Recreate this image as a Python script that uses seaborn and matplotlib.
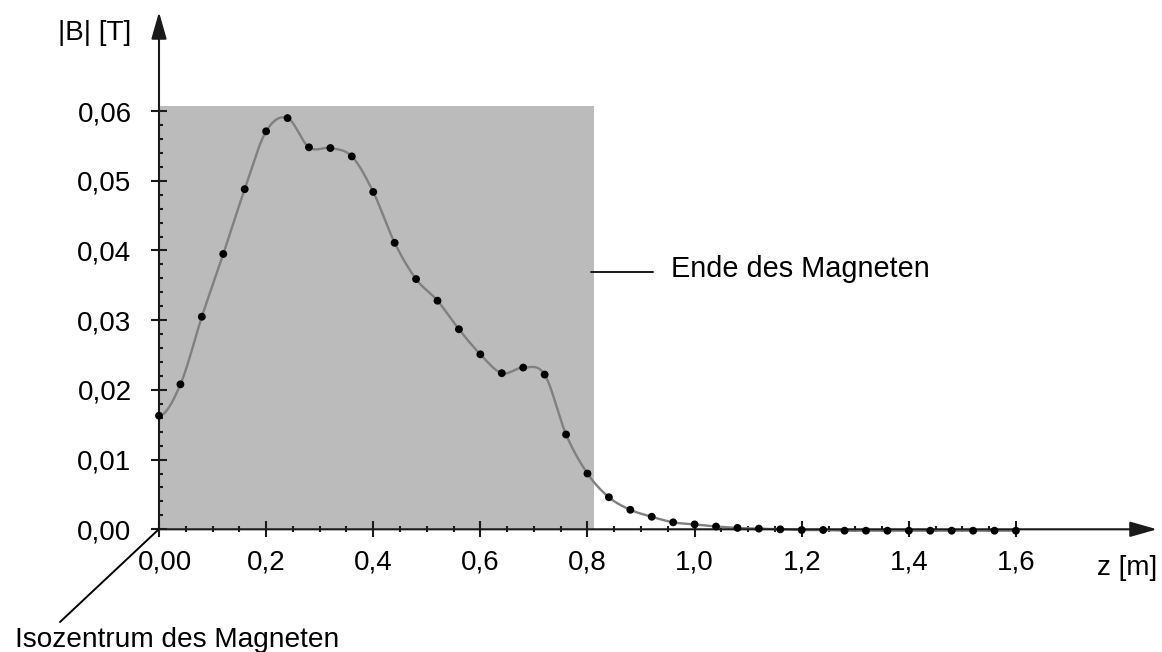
import numpy as np
import pandas as pd
import matplotlib
matplotlib.use("Agg")
import matplotlib.pyplot as plt
import seaborn as sns
from matplotlib.patches import FancyArrowPatch, ArrowStyle
from matplotlib.lines import Line2D
from matplotlib.ticker import FixedLocator, FixedFormatter
from matplotlib.transforms import ScaledTranslation

# ---------------- data ----------------
z_m = [0.00, 0.04, 0.08, 0.12, 0.16, 0.20, 0.24, 0.28, 0.32, 0.36,
       0.40, 0.44, 0.48, 0.52, 0.56, 0.60, 0.64, 0.68, 0.72, 0.76,
       0.80, 0.84, 0.88, 0.92, 0.96, 1.00, 1.04, 1.08, 1.12, 1.16,
       1.20, 1.24, 1.28, 1.32, 1.36, 1.40, 1.44, 1.48, 1.52, 1.56, 1.60]
b_t = [0.0163, 0.0208, 0.0305, 0.0395, 0.0488, 0.0571, 0.0590, 0.0548, 0.0547, 0.0535,
       0.0484, 0.0411, 0.0359, 0.0328, 0.0287, 0.0251, 0.0224, 0.0232, 0.0222, 0.0136,
       0.0080, 0.0046, 0.0028, 0.0018, 0.0010, 0.0007, 0.0004, 0.0002, 0.0001, 0.0000,
       -0.0001, -0.0001, -0.0002, -0.0002, -0.0002, -0.0002, -0.0002, -0.0002, -0.0002, -0.0002, -0.0002]

x_ticks = [0.0, 0.2, 0.4, 0.6, 0.8, 1.0, 1.2, 1.4, 1.6]
x_tick_labels = ["0,00", "0,2", "0,4", "0,6", "0,8", "1,0", "1,2", "1,4", "1,6"]
y_ticks = [0.00, 0.01, 0.02, 0.03, 0.04, 0.05, 0.06]
y_tick_labels = ["0,00", "0,01", "0,02", "0,03", "0,04", "0,05", "0,06"]

magnet_end = 0.812      # z of the end of the magnet [m]
magnet_top = 0.0607     # height of the shaded region

x_label = "z [m]"
y_label = "|B| [T]"
end_label = "Ende des Magneten"
iso_label = "Isozentrum des Magneten"

df = pd.DataFrame({"z": z_m, "B": b_t})

# ---------------- smooth curve (cubic Hermite / Catmull-Rom) ----------------
def hermite_curve(x, y, n=30):
    x = np.asarray(x, float)
    y = np.asarray(y, float)
    m = np.zeros_like(y)
    m[1:-1] = (y[2:] - y[:-2]) / (x[2:] - x[:-2])
    m[0] = 0.0
    m[-1] = 0.0
    xs, ys = [], []
    for i in range(len(x) - 1):
        h = x[i + 1] - x[i]
        t = np.linspace(0, 1, n, endpoint=False)
        h00 = 2 * t**3 - 3 * t**2 + 1
        h10 = t**3 - 2 * t**2 + t
        h01 = -2 * t**3 + 3 * t**2
        h11 = t**3 - t**2
        xs.append(x[i] + t * h)
        ys.append(h00 * y[i] + h10 * h * m[i] + h01 * y[i + 1] + h11 * h * m[i + 1])
    xs.append([x[-1]])
    ys.append([y[-1]])
    return np.concatenate(xs), np.concatenate(ys)

cx, cy = hermite_curve(df["z"], df["B"])
curve = pd.DataFrame({"z": cx, "B": cy})

# ---------------- figure ----------------
sns.set_theme(style="white")
plt.rcParams["font.family"] = ["Liberation Sans", "DejaVu Sans"]
plt.rcParams["text.color"] = "black"
plt.rcParams["xtick.labelcolor"] = "black"
plt.rcParams["ytick.labelcolor"] = "black"

W, H = 1162, 652
fig = plt.figure(figsize=(W / 100, H / 100), dpi=100)

ox, oy = 159.0, 529.3          # pixel position of the origin
px_per_x = 535.6               # pixels per metre
px_per_y = 6970.0              # pixels per tesla
tip_x, tip_y = 1157.0, 12.0    # arrow tips

ax = fig.add_axes([ox / W, (H - oy) / H, (tip_x - ox) / W, (oy - tip_y) / H])
ax.set_xlim(0, (tip_x - ox) / px_per_x)
ax.set_ylim(0, (oy - tip_y) / px_per_y)
ax.set_facecolor("none")
for s in ax.spines.values():
    s.set_visible(False)

axis_col = "#1a1a1a"

# shaded magnet region
ax.fill_between([0, magnet_end], 0, magnet_top, color="#bbbbbb", lw=0, zorder=0)

# curve and points
sns.lineplot(data=curve, x="z", y="B", ax=ax, color="#808080", lw=1.7,
             sort=False, zorder=3, clip_on=False)
sns.scatterplot(data=df, x="z", y="B", ax=ax, color="black", s=32,
                edgecolor="none", zorder=5, clip_on=False)
ax.set_xlabel("")
ax.set_ylabel("")

# axis arrows
style = ArrowStyle("-|>", head_length=1.65, head_width=0.47)
xmax, ymax = ax.get_xlim()[1], ax.get_ylim()[1]
for posB in [(xmax, 0), (0, ymax)]:
    arr = FancyArrowPatch((0, 0), posB, arrowstyle=style, mutation_scale=10,
                          color=axis_col, lw=1.5, shrinkA=0, shrinkB=0,
                          clip_on=False, zorder=4)
    ax.add_patch(arr)

# ticks
ax.xaxis.set_major_locator(FixedLocator(x_ticks))
ax.xaxis.set_major_formatter(FixedFormatter(x_tick_labels))
ax.yaxis.set_major_locator(FixedLocator(y_ticks))
ax.yaxis.set_major_formatter(FixedFormatter(y_tick_labels))
x_minor = [v for v in np.arange(0.05, 1.6, 0.05) if abs(v / 0.2 - round(v / 0.2)) > 1e-6]
y_minor = [v for v in np.arange(0.002, 0.06, 0.002) if abs(v / 0.01 - round(v / 0.01)) > 1e-6]
ax.xaxis.set_minor_locator(FixedLocator(x_minor))
ax.yaxis.set_minor_locator(FixedLocator(y_minor))

ax.tick_params(axis="both", which="major", direction="inout", length=11.5, width=1.5,
               colors=axis_col, labelcolor="black", labelsize=20, bottom=True, left=True)
ax.tick_params(axis="x", which="major", pad=9)
ax.tick_params(axis="y", which="major", pad=14)
ax.tick_params(axis="x", which="minor", direction="inout", length=4.5, width=1.5,
               colors=axis_col, bottom=True)
ax.tick_params(axis="y", which="minor", direction="in", length=3, width=1.5,
               colors=axis_col, left=True)
lbls = ax.get_xticklabels()
lbls[0].set_transform(lbls[0].get_transform() + ScaledTranslation(6 / 100, 0, fig.dpi_scale_trans))

# axis titles
fig.text(131 / W, 1 - 40 / H, y_label, ha="right", va="baseline", fontsize=20, color="black")
fig.text(1157 / W, 1 - 575 / H, x_label, ha="right", va="baseline", fontsize=20, color="black")

# "Ende des Magneten" pointer
y_end = (oy - 272.3) / px_per_y
ax.plot([(591 - ox) / px_per_x, (653 - ox) / px_per_x], [y_end, y_end],
        color=axis_col, lw=1.4, zorder=4, clip_on=False)
ax.text((671 - ox) / px_per_x, (oy - 277) / px_per_y, end_label,
        ha="left", va="baseline", fontsize=20.8, color="black")

# isocenter oblique axis and label
fig.add_artist(Line2D([158 / W, 60 / W], [1 - 530 / H, 1 - 622 / H],
                      color="black", lw=1.4))
fig.text(15 / W, 1 - 647 / H, iso_label, ha="left", va="baseline", fontsize=20.2, color="black")

fig.savefig("out.png", dpi=100)
